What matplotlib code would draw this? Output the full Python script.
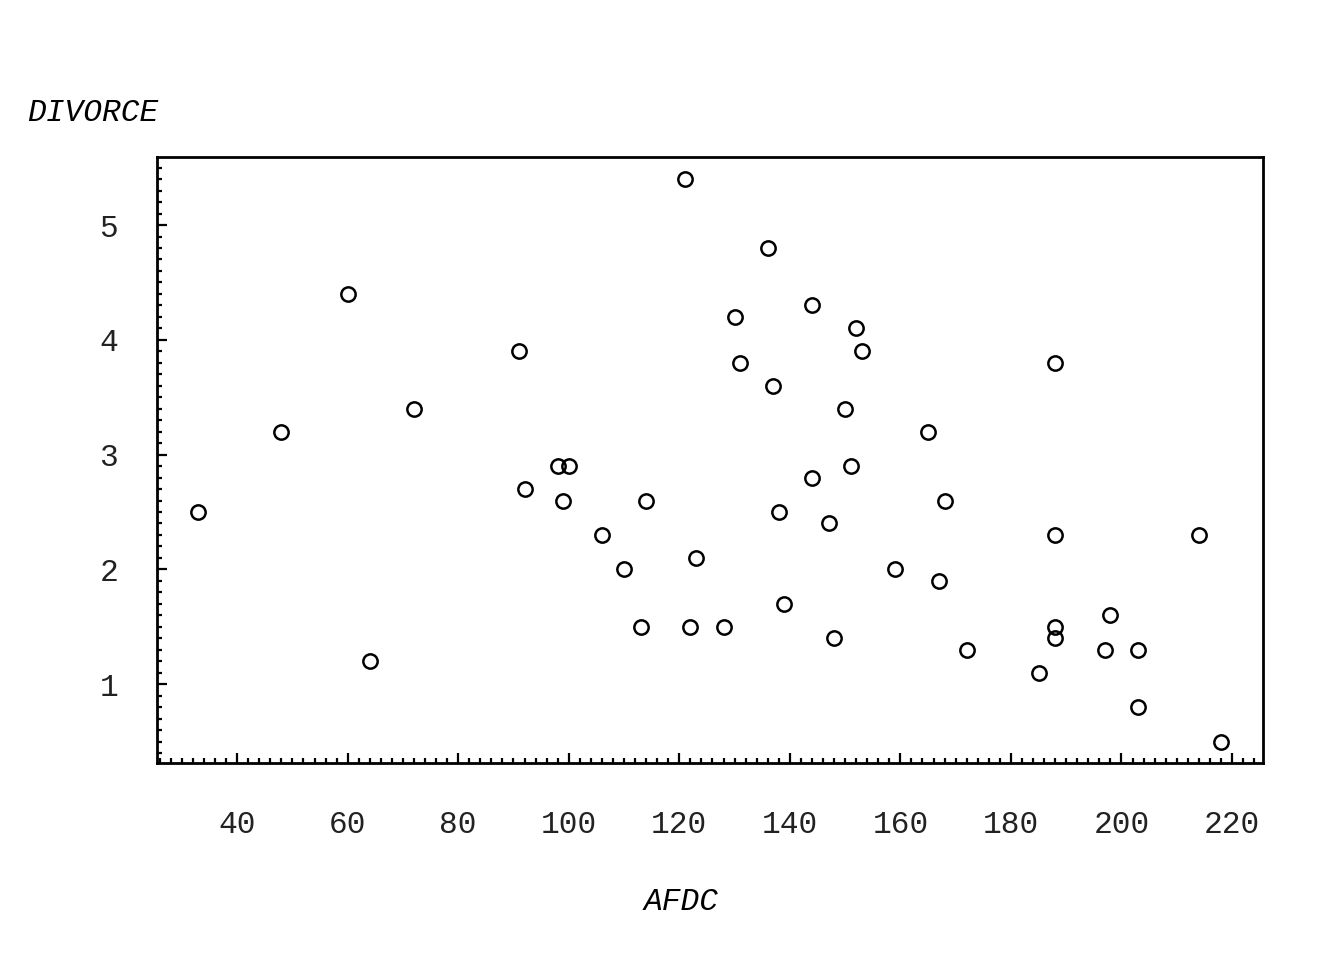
import matplotlib
matplotlib.use("Agg")
from matplotlib import pyplot as plt
from matplotlib.ticker import MultipleLocator

# AFDC payments vs divorce rate
afdc = [33, 48, 60, 64, 72, 91, 92, 98, 100, 99, 106, 110, 113, 114, 121, 122,
        123, 128, 130, 131, 136, 137, 138, 139, 144, 144, 147, 148, 150, 151,
        152, 153, 159, 165, 167, 168, 172, 185, 188, 188, 188, 188, 197, 198,
        203, 203, 214, 218]
divorce = [2.5, 3.2, 4.4, 1.2, 3.4, 3.9, 2.7, 2.9, 2.9, 2.6, 2.3, 2.0, 1.5, 2.6,
           5.4, 1.5, 2.1, 1.5, 4.2, 3.8, 4.8, 3.6, 2.5, 1.7, 4.3, 2.8, 2.4, 1.4,
           3.4, 2.9, 4.1, 3.9, 2.0, 3.2, 1.9, 2.6, 1.3, 1.1, 3.8, 2.3, 1.5, 1.4,
           1.3, 1.6, 1.3, 0.8, 2.3, 0.5]
xticks = [40, 60, 80, 100, 120, 140, 160, 180, 200, 220]
yticks = [1, 2, 3, 4, 5]

font = "Liberation Mono"
fsize = 22.5

fig = plt.figure(figsize=(13.44, 9.6), dpi=100)
ax = fig.add_axes([0.1168, 0.2052, 0.8229, 0.6313])

ax.plot(afdc, divorce, "o", mfc="none", mec="black", ms=10.3, mew=1.8)

ax.set_xlim(25.5, 225.6)
ax.set_ylim(0.313, 5.593)
ax.set_xticks(xticks)
ax.set_yticks(yticks)
ax.xaxis.set_minor_locator(MultipleLocator(2))
ax.yaxis.set_minor_locator(MultipleLocator(0.1))

for s in ax.spines.values():
    s.set_linewidth(2.0)

ax.tick_params(which="both", direction="in", top=False, right=False, width=1.6)
ax.tick_params(which="major", length=7)
ax.tick_params(which="minor", length=3.5)
ax.tick_params(axis="x", which="major", pad=34)
ax.tick_params(axis="y", which="major", pad=28)

for lbl in ax.get_xticklabels() + ax.get_yticklabels():
    lbl.set_fontfamily(font)
    lbl.set_fontsize(fsize)
    lbl.set_color("#222222")

fig.text(0.020, 0.882, "DIVORCE", family=font, style="italic", fontsize=fsize,
         ha="left", va="center")
fig.text(0.507, 0.060, "AFDC", family=font, style="italic", fontsize=fsize,
         ha="center", va="center")

fig.savefig("out.png", dpi=100)
